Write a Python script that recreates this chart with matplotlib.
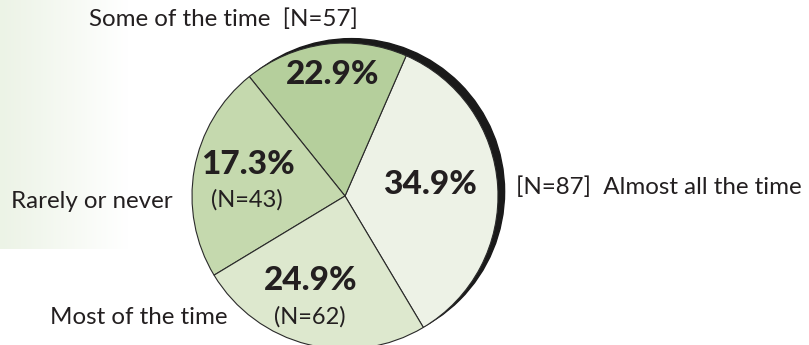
import numpy as np
from matplotlib import pyplot as plt
from matplotlib.patches import Circle

# data
categories = ['Almost all the time', 'Some of the time', 'Rarely or never', 'Most of the time']
percents = [34.9, 22.9, 17.3, 24.9]
counts = [87, 57, 43, 62]
# slice sizes as drawn in the original (its two middle slices are swapped in size)
drawn_share = [34.9, 17.3, 22.9, 24.9]
colors = ['#edf2e6', '#b5cf9c', '#c5d9ae', '#dde8ce']

W, H = 809, 345
fig = plt.figure(figsize=(W / 100, H / 100), dpi=100)
ax = fig.add_axes([0, 0, 1, 1])

label_font = 'Lato'
pct_font = 'Lato'

# soft green fade on the left
grad = np.linspace(0, 1, 256)
left = np.array([236, 243, 230]) / 255
img = left[None, :] * (1 - grad[:, None]) + grad[:, None]
ax.imshow(img[None, :, :], extent=[0, 128, H - 249, H], aspect='auto', zorder=0)

cx, cy, r = 345, H - 196, 153

# black shadow peeking out on the upper right
ax.add_patch(Circle((cx + 6.6, cy + 4.4), r, color='#1a1a1a', zorder=1))

wedges, _ = ax.pie(drawn_share, colors=colors, startangle=-59.2, counterclock=True,
                   center=(cx, cy), radius=r, frame=True,
                   wedgeprops=dict(edgecolor='#2a2a2a', linewidth=0.8))
for w in wedges:
    w.set_zorder(2)
ax.set_xlim(0, W)
ax.set_ylim(0, H)
ax.set_aspect('equal')
ax.axis('off')

pct_kw = dict(fontsize=24, fontweight='black', family=pct_font, color='#231f20',
              ha='center', va='center', zorder=3)
n_kw = dict(fontsize=17, family=label_font, color='#231f20', ha='center', va='center', zorder=3)

ax.text(430, H - 185, f'{percents[0]}%', **pct_kw)
ax.text(333, H - 74, f'{percents[1]}%', **pct_kw)
ax.text(248, H - 165, f'{percents[2]}%', **pct_kw)
ax.text(247, H - 200, f'(N={counts[2]})', **n_kw)
ax.text(311, H - 281, f'{percents[3]}%', **pct_kw)
ax.text(310, H - 317, f'(N={counts[3]})', **n_kw)

lab_kw = dict(fontsize=17.4, family=label_font, color='#231f20', va='center', zorder=3)
ax.text(516, H - 187, f'[N={counts[0]}]  {categories[0]}', ha='left', **lab_kw)
ax.text(89, H - 19, f'{categories[1]}  [N={counts[1]}]', ha='left', **lab_kw)
ax.text(173, H - 202, categories[2], ha='right', **lab_kw)
ax.text(228, H - 318, categories[3], ha='right', **lab_kw)

fig.savefig('out.png', dpi=100)
